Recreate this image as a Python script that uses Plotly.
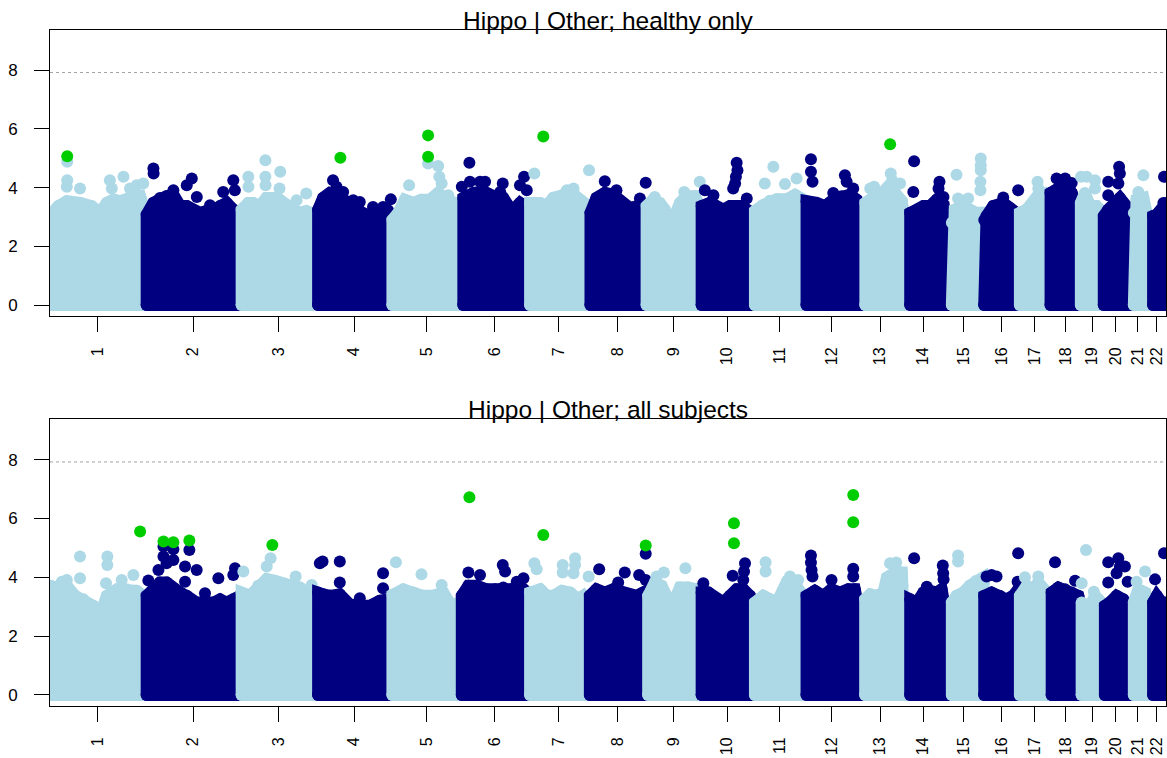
import plotly.graph_objects as go

# ---------------------------------------------------------------------------
# Genome layout (hg19 chromosome lengths, Mb)
# ---------------------------------------------------------------------------
CHROMS = list(range(1, 23))
CHR_LEN_MB = [249.25, 243.20, 198.02, 191.15, 180.92, 171.12, 159.14, 146.36,
              141.21, 135.53, 135.01, 133.85, 115.17, 107.35, 102.53, 90.35,
              81.20, 78.08, 59.13, 63.03, 48.13, 51.30]

SIG_LINE = 7.92          # -log10(p) threshold line
PANEL_TITLES = ["Hippo | Other; healthy only", "Hippo | Other; all subjects"]

# ---------------------------------------------------------------------------
# Panel 1: healthy only
# upper edge of the dense SNP cloud per chromosome (position Mb, -log10 p)
# ---------------------------------------------------------------------------
healthy_env_pos = [
    [1.7, 23, 45, 79, 109, 131, 148, 165, 182, 208, 234, 247],
    [1.7, 19, 36, 53, 70.5, 88, 105, 122, 139, 156, 174, 191, 208, 225, 241],
    [3.4, 20.6, 33, 50.3, 67, 84, 101.4, 118.8, 136, 153, 170, 192],
    [2.6, 15.5, 32.7, 58, 80, 101, 127, 153, 179, 190],
    [3, 18, 35, 57, 78, 100, 121, 143, 164, 177],
    [5, 31, 57, 82.5, 108, 130, 151, 170],
    [6, 32, 49, 66, 92, 113.5, 135, 156.4],
    [2.6, 18, 39.5, 61, 82.5, 104, 125.5, 142.7, 145.5],
    [1, 18, 35, 48, 57, 70, 87, 104, 125.5, 138],
    [1.7, 23, 40, 57.6, 75, 100.6, 117.8, 132, 135],
    [3.6, 24, 42, 60, 86, 107, 127, 134],
    [1.7, 27.5, 49, 70.5, 92, 113.5, 130.6, 133],
    [19.5, 32, 53, 75, 96, 113.5, 115],
    [20, 37, 54, 71, 88.5, 105.7, 107],
    [20, 27.5, 49, 66, 83, 100, 102],
    [1, 7, 24, 50, 67, 84, 90],
    [2.6, 20, 37, 54, 71, 80],
    [0.5, 16, 38, 55, 68, 78],
    [0.5, 11, 24, 41, 58],
    [0.5, 12, 25, 42, 59, 62.5],
    [15, 22, 39.5, 48],
    [16.5, 26, 43, 51],
]
healthy_env_val = [
    [3.05, 3.37, 3.54, 3.48, 3.37, 3.14, 3.48, 3.59, 3.54, 3.65, 3.71, 3.14],
    [3.08, 3.48, 3.65, 3.71, 3.76, 3.37, 3.37, 3.2, 3.14, 3.2, 3.2, 3.37, 3.48, 3.25, 3.14],
    [3.25, 3.48, 3.48, 3.37, 3.65, 3.65, 3.59, 3.42, 3.25, 3.14, 3.2, 3.08],
    [3.25, 3.65, 3.82, 3.71, 3.42, 3.25, 3.08, 3.08, 3.2, 3.08],
    [2.9, 3.14, 3.59, 3.48, 3.59, 3.59, 3.82, 3.59, 3.48, 3.14],
    [3.65, 3.82, 3.88, 3.71, 3.65, 3.2, 3.48, 3.3],
    [3.48, 3.48, 3.37, 3.65, 3.76, 3.82, 3.59, 3.37],
    [3.14, 3.65, 3.82, 3.76, 3.48, 3.31, 3.37, 3.14, 2.91],
    [3.37, 3.59, 3.48, 3.25, 2.9, 2.91, 3.48, 3.71, 3.71, 3.37],
    [3.37, 3.48, 3.37, 3.25, 3.37, 3.37, 3.25, 2.91, 2.68],
    [3.2, 3.4, 3.55, 3.6, 3.6, 3.75, 3.6, 3.4],
    [3.54, 3.48, 3.37, 3.59, 3.71, 3.76, 3.59, 3.37],
    [3.48, 3.59, 3.65, 3.99, 3.82, 3.54, 3.37],
    [3.14, 3.25, 3.37, 3.37, 3.59, 3.42, 2.91],
    [2.8, 3.25, 3.37, 3.2, 3.14, 3.14, 2.91],
    [2.9, 3.03, 3.37, 3.48, 3.31, 3.14, 2.68],
    [3.14, 3.25, 3.48, 3.82, 3.82, 3.71],
    [3.82, 3.94, 3.99, 3.82, 3.37, 2.91],
    [3.48, 3.82, 3.37, 3.37, 3.14],
    [3.03, 3.25, 3.37, 3.65, 3.37, 3.03],
    [3.14, 3.59, 3.65, 3.14],
    [3.03, 3.08, 3.48, 3.48],
]
# individual SNPs standing out above the cloud
healthy_snp_chr = ([1] * 10 + [2] * 10 + [3] * 9 + [4] * 9 + [5] * 6 + [6] * 10 + [7] * 4
                   + [8] * 4 + [9] * 3 + [10] * 8 + [11] * 4 + [12] * 7 + [13] * 5 + [14] * 5
                   + [15] * 8 + [16] * 2 + [17] * 2 + [18] * 4 + [19] * 4 + [20] * 5 + [21] * 2 + [22] * 1)
healthy_snp_pos = [46, 46, 45, 79, 156, 161, 191, 208, 225, 242,
                   19, 19.5, 70.5, 105, 118, 131, 165, 199, 225, 229,
                   20.6, 21, 64.6, 64.6, 65, 103, 101, 170, 145,
                   41, 50, 67, 93, 110, 144, 170, 183, 190,
                   46, 95, 121, 124, 130, 147,
                   20.6, 1, 22, 48, 61, 100, 106.6, 151, 161.6, 168.5,
                   17, 100.6, 118, 158,
                   39.5, 69.6, 130, 145,
                   22, 98, 138,
                   92, 94, 90, 88, 83, 10, 32, 118,
                   29, 51, 81, 111,
                   13, 13, 17, 100.6, 105, 70.5, 122,
                   85, 88.5, 109, 42, 32,
                   30, 28, 95.4, 93, 105.7,
                   94.5, 94.5, 94.5, 93.7, 93.7, 32, 36, 62,
                   88.5, 50,
                   48, 50,
                   16, 38, 55, 25,
                   1, 15.5, 37, 37,
                   40, 42, 38, 12, 12,
                   39.5, 26.6,
                   44.7]
healthy_snp_val = [4.88, 4.25, 4.03, 3.97, 4.25, 3.97, 4.37, 3.97, 4.08, 4.14,
                   4.65, 4.48, 3.91, 4.08, 4.31, 3.68, 3.4, 3.85, 4.25, 3.91,
                   4.37, 4.03, 4.93, 4.37, 4.08, 4.54, 3.97, 3.8, 3.57,
                   4.25, 4.03, 3.85, 3.57, 3.51, 3.34, 3.34, 3.23, 3.6,
                   4.08, 4.82, 4.74, 4.37, 4.14, 3.74,
                   4.85, 4.03, 4.2, 4.2, 4.2, 3.85, 4.14, 4.08, 4.37, 3.91,
                   4.48, 3.91, 3.97, 4.59,
                   4.22, 3.91, 3.63, 4.17,
                   3.68, 3.85, 4.2,
                   4.85, 4.59, 4.37, 4.14, 3.97, 3.91, 3.74, 3.63,
                   4.14, 4.71, 4.12, 4.31,
                   4.97, 4.54, 4.2, 4.42, 4.2, 3.82, 3.97,
                   4.48, 4.25, 4.14, 4.03, 3.97,
                   4.9, 3.85, 4.2, 3.97, 3.68,
                   4.99, 4.76, 4.59, 4.2, 3.91, 4.44, 3.63, 3.63,
                   3.91, 3.66,
                   4.2, 3.97,
                   4.31, 4.31, 4.16, 4.25,
                   4.37, 4.37, 4.25, 3.97,
                   4.71, 4.48, 4.14, 4.2, 3.74,
                   4.42, 3.85,
                   4.37]
# highlighted top hits
healthy_hit_chr = [1, 4, 5, 5, 7, 13]
healthy_hit_pos = [46, 60, 95, 95, 40, 83.4]
healthy_hit_val = [5.07, 5.02, 5.05, 5.78, 5.74, 5.48]

# ---------------------------------------------------------------------------
# Panel 2: all subjects
# ---------------------------------------------------------------------------
all_env_pos = [
    [1.7, 23, 45, 66, 88, 113, 131, 148, 174, 199, 225, 242],
    [1.7, 19, 36, 53, 70.5, 88, 105, 130.6, 156, 174, 191, 208, 225, 238],
    [3.4, 25, 46, 68, 89, 111, 132, 153.6, 175, 192],
    [2.6, 15.5, 32.7, 58.4, 84, 110, 135.8, 161.6, 183, 190],
    [3, 31, 57, 82.5, 108, 134, 155.6, 173],
    [1, 18, 39.5, 65, 87, 108, 130, 151, 170],
    [6, 32, 49, 66, 87.7, 109, 130.6, 143.5, 157],
    [1, 18, 39.5, 61, 82.5, 104, 121, 138, 145.5],
    [5, 22, 39.5, 52, 62, 70, 87, 108, 130, 138],
    [1.7, 19, 40, 57.6, 75, 92, 109, 126, 134],
    [3.6, 25, 42, 60, 85, 107, 128, 134],
    [1.7, 23, 44.7, 66, 87.7, 109, 126, 133],
    [19, 32, 49, 66, 75, 96, 113.5, 115],
    [20, 37, 54, 71, 88.5, 101, 107],
    [20, 32, 49, 66, 83, 100.6, 102],
    [1, 20, 41, 58.4, 75.6, 88.5, 90],
    [2.6, 20, 37, 50, 67, 80],
    [3.4, 20.6, 38, 55, 72, 78],
    [2.6, 20, 37, 54, 58.5],
    [3.4, 16, 33.5, 50.7, 62.5],
    [15, 26.6, 44, 48],
    [16.5, 26, 38.7, 51],
]
all_env_val = [
    [3.71, 3.65, 3.71, 3.37, 3.25, 3.03, 2.69, 3.37, 3.59, 3.59, 3.54, 3.37],
    [3.37, 3.59, 3.82, 3.82, 3.59, 3.48, 3.37, 3.14, 3.14, 3.14, 3.25, 3.14, 3.25, 2.91],
    [3.48, 3.37, 3.71, 3.94, 3.88, 3.76, 3.71, 3.65, 3.48, 3.25],
    [3.48, 3.42, 3.37, 3.42, 3.08, 3.03, 3.03, 3.2, 3.25, 3.14],
    [3.4, 3.59, 3.48, 3.37, 3.37, 3.48, 3.03, 3.14],
    [3.37, 3.71, 3.71, 3.59, 3.59, 3.65, 3.59, 3.71, 3.48],
    [3.48, 3.59, 3.37, 3.37, 3.54, 3.48, 3.25, 3.37, 3.14],
    [3.37, 3.59, 3.48, 3.59, 3.48, 3.37, 3.37, 3.48, 3.14],
    [3.37, 3.82, 3.71, 3.37, 3.0, 3.14, 3.65, 3.65, 3.59, 3.14],
    [3.48, 3.48, 3.25, 3.14, 3.37, 3.59, 3.59, 3.37, 2.91],
    [3.14, 3.37, 3.25, 3.14, 3.82, 3.76, 3.37, 3.3],
    [3.37, 3.54, 3.37, 3.59, 3.48, 3.59, 3.59, 3.14],
    [3.25, 3.42, 3.37, 3.48, 3.99, 4.16, 4.16, 3.71],
    [3.25, 3.14, 3.48, 3.54, 3.48, 3.59, 3.14],
    [3.14, 3.37, 3.48, 3.71, 3.88, 3.99, 3.82],
    [3.37, 3.48, 3.37, 3.25, 3.37, 3.59, 3.14],
    [3.37, 3.71, 3.59, 3.82, 3.48, 3.37],
    [3.48, 3.65, 3.59, 3.48, 3.37, 3.03],
    [3.14, 2.91, 3.37, 3.14, 2.91],
    [3.03, 3.14, 3.37, 3.25, 3.03],
    [3.14, 3.59, 3.48, 3.14],
    [3.14, 3.37, 3.14, 3.14],
]
all_snp_chr = ([1] * 9 + [2] * 15 + [3] * 5 + [4] * 7 + [5] * 3 + [6] * 6 + [7] * 8 + [8] * 6
               + [9] * 3 + [10] * 5 + [11] * 4 + [12] * 7 + [13] * 2 + [14] * 5 + [15] * 2
               + [16] * 5 + [17] * 2 + [18] * 2 + [19] * 3 + [20] * 7 + [21] * 2 + [22] * 2)
all_snp_pos = [79, 79, 149.5, 149.5, 146, 216.6, 186.5, 45, 32,
               70.5, 111.7, 45, 45, 53, 32, 6, 100.6, 130.6, 100.6, 152, 186.5, 229.5, 225, 70.5,
               78, 68, 7.7, 142.7, 184,
               7, 14, 58.4, 58.4, 170, 170, 110,
               12, 78, 130,
               18, 48, 106.6, 112.6, 160, 142.7,
               17, 23, 90, 90, 122, 122, 118, 157,
               25, 91, 74, 128, 145, 145,
               45.5, 101, 26.6,
               113.5, 111, 109, 81.7, 6,
               31, 31, 94, 115,
               13, 13, 14.6, 17, 122, 122, 66,
               83, 99,
               30, 104, 105, 106, 62.7,
               36, 36,
               7, 20, 32.7, 88.5, 87,
               15.5, 50,
               12, 63.6,
               13.75, 2.6, 34,
               12, 12, 38, 42, 55, 62, 33.5,
               44, 22,
               44.7, 21.5]
all_snp_val = [4.71, 3.97, 4.71, 4.42, 3.8, 4.08, 3.91, 3.91, 3.85,
               4.95, 4.93, 5.05, 4.71, 4.48, 4.25, 3.89, 4.37, 4.25, 3.85, 3.46, 3.97, 4.31, 4.08, 4.59,
               4.65, 4.37, 4.2, 4.03, 3.74,
               4.48, 4.54, 4.54, 3.82, 4.14, 3.63, 3.29,
               4.51, 4.1, 3.74,
               4.16, 4.08, 4.42, 4.2, 3.97, 3.85,
               4.48, 4.27, 4.42, 4.16, 4.65, 4.42, 4.14, 4.03,
               4.27, 4.16, 3.82, 4.08, 4.8, 3.91,
               4.16, 4.31, 4.03,
               4.48, 4.2, 3.91, 4.05, 3.8,
               4.51, 4.2, 4.03, 3.91,
               4.74, 4.5, 4.25, 4.03, 4.29, 4.03, 3.91,
               4.48, 4.5,
               4.65, 4.4, 4.14, 3.93, 3.68,
               4.74, 4.54,
               4.03, 4.08, 4.03, 4.82, 3.85,
               4.0, 4.03,
               4.51, 3.88,
               4.93, 3.8, 3.51,
               4.51, 3.82, 4.65, 4.37, 4.37, 3.85, 4.14,
               4.2, 3.85,
               4.82, 3.93]
all_hit_chr = [1, 2, 2, 2, 3, 6, 7, 8, 10, 10, 12, 12]
all_hit_pos = [234, 45, 70.5, 111.7, 82.5, 20.6, 40, 145, 85, 85, 122, 122]
all_hit_val = [5.56, 5.22, 5.19, 5.25, 5.1, 6.72, 5.44, 5.08, 5.84, 5.16, 6.8, 5.87]

# ---------------------------------------------------------------------------
# Styling
# ---------------------------------------------------------------------------
COL_ODD = "#ADD8E6"     # lightblue
COL_EVEN = "#000080"    # navy
COL_HIT = "#00CD00"     # green3
DOT_SIZE = 12
FONT = "Liberation Sans, Arial, Helvetica, sans-serif"

# cumulative chromosome offsets along the genome axis
offsets = []
acc = 0.0
for L in CHR_LEN_MB:
    offsets.append(acc)
    acc += L
tick_pos = [offsets[i] + CHR_LEN_MB[i] / 2 for i in range(22)]
tick_txt = [str(c) for c in CHROMS]

fig = go.Figure()


def add_panel(env_pos, env_val, snp_chr, snp_pos, snp_val, hit_chr, hit_pos, hit_val, xa, ya):
    for i, c in enumerate(CHROMS):
        col = COL_ODD if c % 2 == 1 else COL_EVEN
        off = offsets[i]
        px = [off + p for p in env_pos[i]]
        xs = [px[0]] + px + [px[-1], px[0]]
        ys = [0] + env_val[i] + [0, 0]
        # dense cloud of SNPs: filled envelope outlined with a dot-wide stroke,
        # with dots at the envelope vertices for the rounded edge
        fig.add_trace(go.Scatter(
            x=xs, y=ys, mode="lines+markers", fill="toself", fillcolor=col,
            line=dict(color=col, width=DOT_SIZE),
            marker=dict(color=col, size=DOT_SIZE, line=dict(width=0)),
            hoverinfo="skip", showlegend=False, xaxis=xa, yaxis=ya))
        sx = [off + p for cc, p in zip(snp_chr, snp_pos) if cc == c]
        sy = [v for cc, v in zip(snp_chr, snp_val) if cc == c]
        if sx:
            fig.add_trace(go.Scatter(
                x=sx, y=sy, mode="markers",
                marker=dict(color=col, size=DOT_SIZE, line=dict(width=0)),
                showlegend=False, xaxis=xa, yaxis=ya))
    hx = [offsets[c - 1] + p for c, p in zip(hit_chr, hit_pos)]
    fig.add_trace(go.Scatter(
        x=hx, y=hit_val, mode="markers",
        marker=dict(color=COL_HIT, size=DOT_SIZE, line=dict(width=0)),
        showlegend=False, xaxis=xa, yaxis=ya))


add_panel(healthy_env_pos, healthy_env_val, healthy_snp_chr, healthy_snp_pos, healthy_snp_val,
          healthy_hit_chr, healthy_hit_pos, healthy_hit_val, "x", "y")
add_panel(all_env_pos, all_env_val, all_snp_chr, all_snp_pos, all_snp_val,
          all_hit_chr, all_hit_pos, all_hit_val, "x2", "y2")

X_RANGE = [1.6, 2879.5]
Y_RANGE = [-0.374, 9.37]

xaxis_style = dict(
    range=X_RANGE, tickmode="array", tickvals=tick_pos, ticktext=tick_txt,
    tickangle=-90, ticks="outside", ticklen=15, tickwidth=1, tickcolor="black",
    showline=True, linecolor="black", linewidth=1, mirror=True,
    showgrid=False, zeroline=False, ticklabelstandoff=9, automargin=False,
    tickfont=dict(family=FONT, size=16, color="black"),
)
yaxis_style = dict(
    range=Y_RANGE, tickmode="array", tickvals=[0, 2, 4, 6, 8],
    ticks="outside", ticklen=15, tickwidth=1, tickcolor="black",
    showline=True, linecolor="black", linewidth=1, mirror=True,
    showgrid=False, zeroline=False, ticklabelstandoff=13, automargin=False,
    tickfont=dict(family=FONT, size=17, color="black"),
)

fig.update_layout(
    width=1167, height=758,
    margin=dict(l=50, r=1, t=30, b=52, autoexpand=False),
    paper_bgcolor="white", plot_bgcolor="white",
    xaxis=dict(domain=[0, 1], anchor="y", **xaxis_style),
    yaxis=dict(domain=[0.5769, 1], anchor="x", **yaxis_style),
    xaxis2=dict(domain=[0, 1], anchor="y2", **xaxis_style),
    yaxis2=dict(domain=[0, 0.4241], anchor="x2", **yaxis_style),
    shapes=[
        dict(type="line", xref="x domain", yref="y", x0=0, x1=1, y0=SIG_LINE, y1=SIG_LINE,
             line=dict(color="#A0A0A0", width=1, dash="dot"), layer="above"),
        dict(type="line", xref="x2 domain", yref="y2", x0=0, x1=1, y0=SIG_LINE, y1=SIG_LINE,
             line=dict(color="#A0A0A0", width=1, dash="dot"), layer="above"),
    ],
    annotations=[
        dict(text=PANEL_TITLES[0], xref="x domain", yref="y domain", x=0.5, y=1,
             xanchor="center", yanchor="middle", yshift=10, showarrow=False,
             font=dict(family=FONT, size=24.5, color="black")),
        dict(text=PANEL_TITLES[1], xref="x2 domain", yref="y2 domain", x=0.5, y=1,
             xanchor="center", yanchor="middle", yshift=10, showarrow=False,
             font=dict(family=FONT, size=24.5, color="black")),
    ],
)

fig.write_html("out.html")
